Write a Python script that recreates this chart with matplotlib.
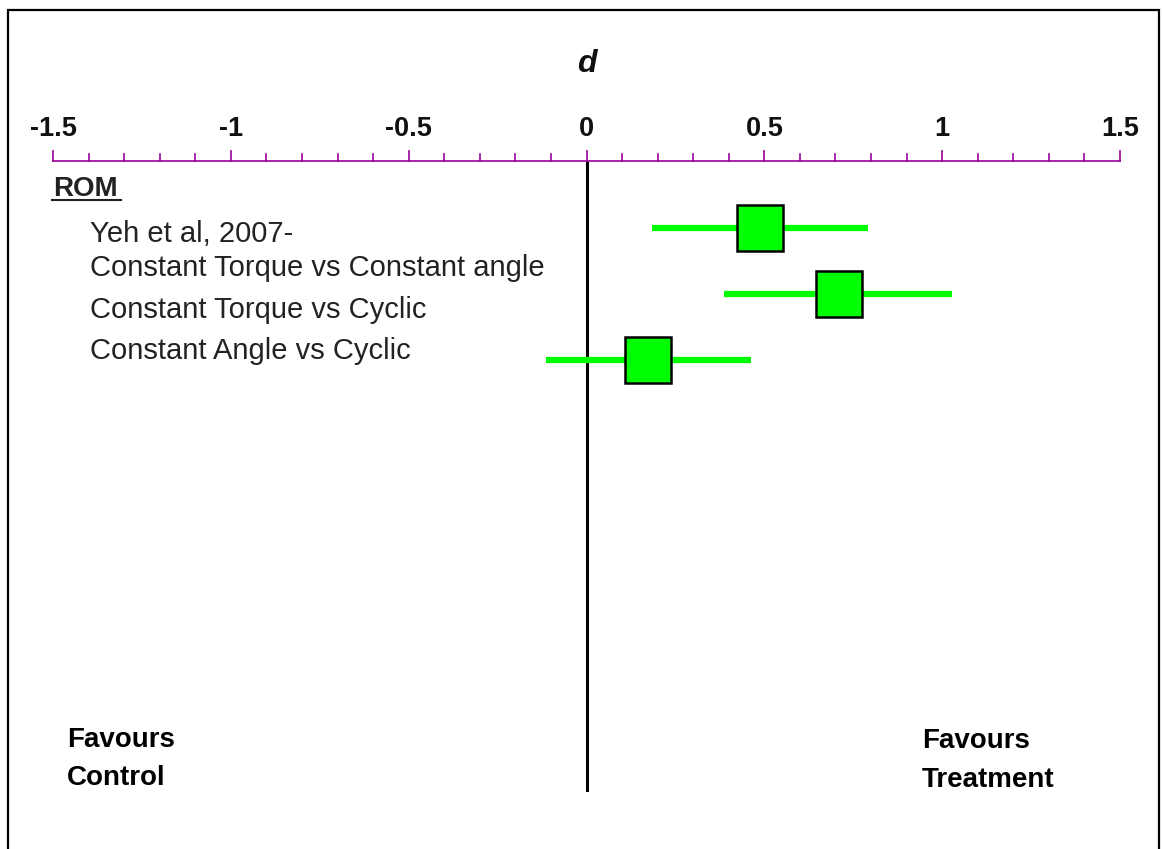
import matplotlib.pyplot as plt
import matplotlib.patches as patches
import numpy as np

plt.rcParams['font.family'] = ['Liberation Sans', 'DejaVu Sans']

# --- data ---
heading = "ROM"
label_lines = ["Yeh et al, 2007-",
               "Constant Torque vs Constant angle",
               "Constant Torque vs Cyclic",
               "Constant Angle vs Cyclic"]
effect = [0.488, 0.709, 0.174]
ci_low = [0.184, 0.387, -0.114]
ci_high = [0.790, 1.028, 0.462]
tick_vals = [-1.5, -1, -0.5, 0, 0.5, 1, 1.5]
tick_text = ["-1.5", "-1", "-0.5", "0", "0.5", "1", "1.5"]

# --- layout (pixels) ---
W, H = 1162, 849
X0_PX, SCALE = 586.5, 355.7   # pixel of d=0, pixels per unit
row_y = [227.5, 293.5, 360]
label_base = [242, 276, 318, 359]
AXIS_Y = 161
PURPLE = '#990099'
GREEN = '#00ff00'
TXT = '#222222'


def px(x):
    return (x - X0_PX) / SCALE


fig = plt.figure(figsize=(W / 100, H / 100), dpi=100)
ax = fig.add_axes([0, 0, 1, 1])
ax.set_xlim(px(0), px(W))
ax.set_ylim(H, 0)
ax.axis('off')

# frame around the picture (runs off the bottom)
fig.patches.append(patches.Rectangle((8 / W, -0.05), 1151 / W, 1.05 - 10 / H,
                                     transform=fig.transFigure, fill=False,
                                     edgecolor='black', linewidth=1.6))

# top axis
ax.plot([-1.5, 1.5], [AXIS_Y, AXIS_Y], color=PURPLE, linewidth=1.2)
for t in np.round(np.arange(-1.5, 1.51, 0.1), 2):
    major = abs(t * 2 - round(t * 2)) < 1e-6
    ax.plot([t, t], [AXIS_Y, AXIS_Y - (10 if major else 7)],
            color=PURPLE, linewidth=1.2)
for v, s in zip(tick_vals, tick_text):
    ax.text(v, 136, s, ha='center', va='baseline', fontsize=19.5,
            fontweight='bold', color='#111111')
ax.text(0, 72, "d", ha='center', va='baseline', fontsize=23,
        fontweight='bold', style='italic', color='#111111')

# zero line
ax.plot([0, 0], [163, 790], color='black', linewidth=2.2)

# heading
ax.text(-1.5, 196, heading, ha='left', va='baseline', fontsize=20,
        fontweight='bold', color=TXT)
ax.plot([px(52), px(121)], [199.5, 199.5], color=TXT, linewidth=1.5)

# studies
for lab, ly in zip(label_lines, label_base):
    ax.text(px(90), ly, lab, ha='left', va='baseline',
            fontsize=21, color=TXT)

for e, lo, hi, y in zip(effect, ci_low, ci_high, row_y):
    ax.plot([lo, hi], [y, y], color=GREEN, linewidth=4.5, solid_capstyle='butt',
            zorder=3)
    ax.plot([e], [y], marker='s', markersize=32.5, markerfacecolor=GREEN,
            markeredgecolor='black', markeredgewidth=1.8, zorder=4)

# favours labels
for s, x, y in [("Favours", 67, 747), ("Control", 67, 785),
                ("Favours", 922, 748), ("Treatment", 922, 787)]:
    ax.text(px(x), y, s, ha='left', va='baseline', fontsize=20,
            fontweight='bold', color='black')

fig.savefig("out.png", dpi=100)
